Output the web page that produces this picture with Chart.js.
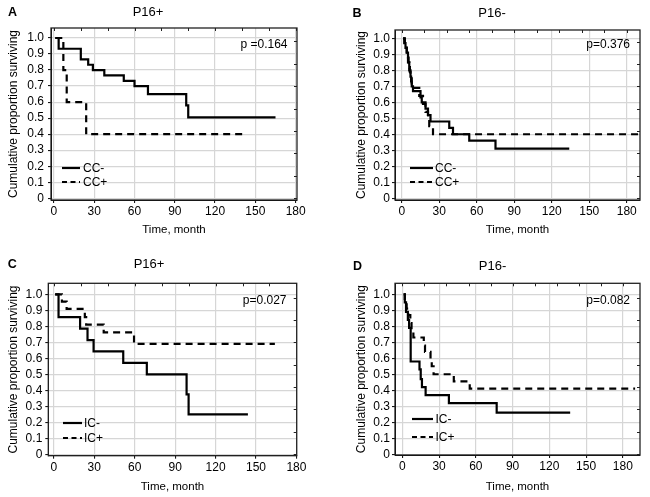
<!DOCTYPE html>
<html>
<head>
<meta charset="utf-8">
<script src="https://cdn.jsdelivr.net/npm/chart.js@4.4.0/dist/chart.umd.min.js"></script>
<style>
body { margin: 0; background: #fff; width: 650px; height: 497px; position: relative; overflow: hidden;
       font-family: "Liberation Sans", Arial, sans-serif; color: #000; }
.panel { position: absolute; width: 325px; height: 247px; }
.panel canvas { position: absolute; left: 0; top: 0; }
.txt { position: absolute; white-space: nowrap; font-size: 12px; line-height: 14px; }
.title { font-size: 13px; }
.letter { font-weight: bold; font-size: 12.5px; }
</style>
</head>
<body>
<script>
// tick labels
const xTickValues = [0, 30, 60, 90, 120, 150, 180];
const yTickValues = [0, 0.1, 0.2, 0.3, 0.4, 0.5, 0.6, 0.7, 0.8, 0.9, 1.0];

const panelLetters = ['A', 'B', 'C', 'D'];
const panelTitles = ['P16+', 'P16-', 'P16+', 'P16-'];
const pValues = ['p =0.164', 'p=0.376', 'p=0.027', 'p=0.082'];
const groupLabels = [['CC-', 'CC+'], ['CC-', 'CC+'], ['IC-', 'IC+'], ['IC-', 'IC+']];

// A: P16+, CC- / CC+
const aNegTime = [1, 3.5, 20, 25.5, 29, 37.5, 52, 60, 70, 98.5, 100, 165];
const aNegSurv = [1.0, 0.933, 0.867, 0.833, 0.8, 0.767, 0.733, 0.7, 0.65, 0.58, 0.505, 0.505];
const aPosTime = [1, 7, 9.5, 24, 142];
const aPosSurv = [1.0, 0.8, 0.6, 0.4, 0.4];

// B: P16-, CC- / CC+
const bNegTime = [1, 2, 3, 4, 5, 5.5, 6, 6.5, 7, 7.5, 8, 9, 15, 16, 19, 21, 23, 38, 41, 54, 75, 134];
const bNegSurv = [1.0, 0.97, 0.94, 0.91, 0.88, 0.85, 0.82, 0.79, 0.76, 0.73, 0.70, 0.67, 0.63, 0.60, 0.56, 0.52, 0.48, 0.44, 0.40, 0.36, 0.31, 0.31];
const bPosTime = [1, 2.5, 4, 5, 6, 7, 8, 14, 17, 19, 21, 22, 25, 190];
const bPosSurv = [1.0, 0.95, 0.90, 0.85, 0.80, 0.75, 0.69, 0.64, 0.59, 0.54, 0.50, 0.45, 0.40, 0.40];

// C: P16+, IC- / IC+
const cNegTime = [1, 3.5, 19.5, 25, 29.5, 51.5, 69, 98.5, 100, 144];
const cNegSurv = [1.0, 0.857, 0.786, 0.714, 0.643, 0.571, 0.5, 0.375, 0.25, 0.25];
const cPosTime = [1, 6, 9.5, 23, 24, 37, 59.5, 164];
const cPosSurv = [1.0, 0.955, 0.909, 0.857, 0.81, 0.762, 0.69, 0.69];

// D: P16-, IC- / IC+
const dNegTime = [1, 2, 3, 4.5, 5.5, 6.8, 14, 15, 16, 19, 38, 77, 137];
const dNegSurv = [1.0, 0.95, 0.89, 0.84, 0.79, 0.58, 0.53, 0.47, 0.42, 0.37, 0.32, 0.26, 0.26];
const dPosTime = [1, 2, 3.5, 5, 6.5, 7.5, 9, 17.5, 18.5, 23, 24, 25.5, 42, 55, 190];
const dPosSurv = [1.0, 0.96, 0.91, 0.87, 0.82, 0.78, 0.73, 0.68, 0.64, 0.59, 0.55, 0.50, 0.455, 0.41, 0.41];

const series = [
    [aNegTime, aNegSurv, aPosTime, aPosSurv],
    [bNegTime, bNegSurv, bPosTime, bPosSurv],
    [cNegTime, cNegSurv, cPosTime, cPosSurv],
    [dNegTime, dNegSurv, dPosTime, dPosSurv]
];

// layout of each panel (canvas offset, plot area inside canvas, axis ranges, text spots)
const panels = [
    { left: 0, top: 0, area: {l: 51, t: 28, r: 297, b: 200}, xMin: -2.2, xMax: 181, yMin: -0.011, yMax: 1.0625,
      yTitleX: 13.5, xTitleY: 230, yPad: 4, topStep: 20,
      letter: [12.5, 11.7], title: [148, 11.7], p: [287.5, 43.5], legend: {x1: 62, x2: 80, tx: 83, y: [167.7, 182.3]} },
    { left: 325, top: 0, area: {l: 70, t: 30, r: 315, b: 200}, xMin: -5.4, xMax: 190.6, yMin: -0.011, yMax: 1.052,
      yTitleX: 36.7, xTitleY: 230, yPad: 2, topStep: 18,
      letter: [357, 12.5], title: [492, 12.5], p: [630, 43.5], legend: {x1: 410, x2: 433, tx: 435, y: [168, 182]} },
    { left: 0, top: 250, area: {l: 48.3, t: 33.3, r: 296.7, b: 205.7}, xMin: -4.1, xMax: 180.2, yMin: -0.009, yMax: 1.069,
      yTitleX: 13.3, xTitleY: 236.7, yPad: 3, topStep: 20,
      letter: [12.2, 263.5], title: [149, 263.5], p: [286.5, 300], legend: {x1: 63, x2: 82, tx: 84, y: [423.3, 438.3]} },
    { left: 325, top: 250, area: {l: 70, t: 33.3, r: 315, b: 205}, xMin: -6, xMax: 194, yMin: -0.005, yMax: 1.069,
      yTitleX: 36.7, xTitleY: 236.7, yPad: 2, topStep: 18,
      letter: [357.5, 266], title: [492.5, 266], p: [630, 300], legend: {x1: 411.7, x2: 433.3, tx: 435.5, y: [419.3, 436.7]} }
];

const W = 325, H = 247;
const FONT = '"Liberation Sans", Arial, sans-serif';

function toPoints(times, surv) {
    return times.map((t, i) => ({x: t, y: surv[i]}));
}

function addText(text, x, y, cls, anchor) {
    let el = document.createElement('div');
    el.className = 'txt ' + (cls || '');
    el.textContent = text;
    el.style.left = x + 'px';
    el.style.top = y + 'px';
    el.style.transform = anchor === 'right' ? 'translate(-100%, -50%)' : anchor === 'left' ? 'translate(0, -50%)' : 'translate(-50%, -50%)';
    document.body.appendChild(el);
    return el;
}

function addLegendLine(x1, x2, y, dashed) {
    const ns = 'http://www.w3.org/2000/svg';
    let svg = document.createElementNS(ns, 'svg');
    svg.setAttribute('width', x2 - x1);
    svg.setAttribute('height', 4);
    svg.style.position = 'absolute';
    svg.style.left = x1 + 'px';
    svg.style.top = (y - 2) + 'px';
    let line = document.createElementNS(ns, 'line');
    line.setAttribute('x1', 0); line.setAttribute('x2', x2 - x1);
    line.setAttribute('y1', 2); line.setAttribute('y2', 2);
    line.setAttribute('stroke', '#000');
    line.setAttribute('stroke-width', 2.2);
    if (dashed) line.setAttribute('stroke-dasharray', '5 3.5');
    svg.appendChild(line);
    document.body.appendChild(svg);
}

// frame around plot area plus small inner ticks on top and right
const framePlugin = {
    id: 'frame',
    afterDraw(chart, args, opts) {
        const {ctx, chartArea: a, scales} = chart;
        ctx.save();
        ctx.strokeStyle = '#222';
        ctx.lineWidth = 1.3;
        ctx.strokeRect(a.left, a.top, a.right - a.left, a.bottom - a.top);
        ctx.lineWidth = 1;
        ctx.beginPath();
        for (let v = 0; v <= scales.x.max; v += opts.topStep) {
            let px = Math.round(scales.x.getPixelForValue(v)) + 0.5;
            ctx.moveTo(px, a.top);
            ctx.lineTo(px, a.top + 3);
        }
        for (let v = 0; v <= scales.y.max; v += 0.14) {
            let py = Math.round(scales.y.getPixelForValue(v)) + 0.5;
            ctx.moveTo(a.right, py);
            ctx.lineTo(a.right - 3, py);
        }
        ctx.stroke();
        ctx.restore();
    }
};

panels.forEach((p, i) => {
    let box = document.createElement('div');
    box.className = 'panel';
    box.style.left = p.left + 'px';
    box.style.top = p.top + 'px';
    document.body.appendChild(box);
    let canvas = document.createElement('canvas');
    canvas.width = W;
    canvas.height = H;
    box.appendChild(canvas);

    const yTitleLH = 12 * 1.2, xTitleLH = 11.5 * 1.2;
    const padL = p.yTitleX - yTitleLH / 2;
    const padB = H - p.xTitleY - xTitleLH / 2;
    const yW = p.area.l - padL;
    const xH = H - padB - p.area.b;
    const s = series[i];

    new Chart(canvas, {
        type: 'line',
        data: {
            datasets: [{
                label: groupLabels[i][0],
                data: toPoints(s[0], s[1]),
                borderColor: '#000',
                borderWidth: 2.2,
                stepped: 'before',
                pointRadius: 0,
                fill: false
            }, {
                label: groupLabels[i][1],
                data: toPoints(s[2], s[3]),
                borderColor: '#000',
                borderWidth: 2.2,
                borderDash: [7, 5],
                stepped: 'before',
                pointRadius: 0,
                fill: false
            }]
        },
        options: {
            responsive: false,
            animation: false,
            layout: {padding: {left: padL, right: W - p.area.r, top: p.area.t, bottom: padB}},
            plugins: {legend: {display: false}, tooltip: {enabled: false}, frame: {topStep: p.topStep}},
            scales: {
                x: {
                    type: 'linear',
                    min: p.xMin,
                    max: p.xMax,
                    afterBuildTicks: sc => { sc.ticks = xTickValues.map(v => ({value: v})); },
                    afterFit: sc => { sc.height = xH; },
                    ticks: {color: '#000', font: {family: FONT, size: 12}, padding: 1.5, maxRotation: 0, autoSkip: false},
                    grid: {color: '#d6d6d6', lineWidth: 1.2, tickLength: 3, tickColor: '#000', tickWidth: 1},
                    border: {color: '#000', width: 1},
                    title: {display: true, text: 'Time, month', color: '#000', font: {family: FONT, size: 11.5}, padding: 0}
                },
                y: {
                    type: 'linear',
                    min: p.yMin,
                    max: p.yMax,
                    afterBuildTicks: sc => { sc.ticks = yTickValues.map(v => ({value: v})); },
                    afterFit: sc => { sc.width = yW; },
                    ticks: {
                        color: '#000', font: {family: FONT, size: 12}, padding: p.yPad, autoSkip: false,
                        callback: v => v === 0 ? '0' : v.toFixed(1)
                    },
                    grid: {color: '#d6d6d6', lineWidth: 1.2, tickLength: 3, tickColor: '#000', tickWidth: 1},
                    border: {color: '#000', width: 1},
                    title: {display: true, text: 'Cumulative proportion surviving', color: '#000', font: {family: FONT, size: 12}, padding: 0}
                }
            }
        },
        plugins: [framePlugin]
    });

    addText(panelLetters[i], p.letter[0], p.letter[1], 'letter');
    addText(panelTitles[i], p.title[0], p.title[1], 'title');
    addText(pValues[i], p.p[0], p.p[1], '', 'right');
    groupLabels[i].forEach((lab, k) => {
        addLegendLine(p.legend.x1, p.legend.x2, p.legend.y[k], k === 1);
        addText(lab, p.legend.tx, p.legend.y[k], '', 'left');
    });
});
</script>
</body>
</html>
